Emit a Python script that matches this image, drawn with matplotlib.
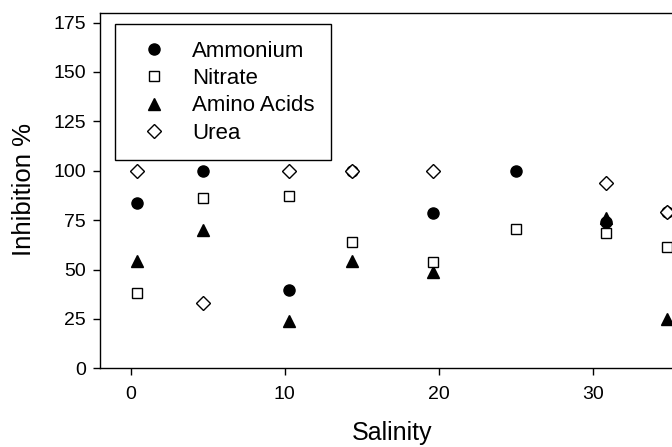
import numpy as np
import matplotlib.pyplot as plt

plt.rcParams['font.family'] = ['Liberation Sans', 'DejaVu Sans']

# salinity of each sampling station
salinity = [0.4, 4.7, 10.3, 14.4, 19.6, 25.0, 30.9, 34.8]

# inhibition % per nitrogen source (nan = not measured)
ammonium = [83.5, 100, 39.6, 100, 78.5, 100, 74, 79]
nitrate = [38.3, 86, 87.2, 64.1, 53.7, 70.5, 68.7, 61.6]
amino_acids = [54.3, 70, 24.1, 54.3, 48.9, np.nan, 76, 25]
urea = [100, 33, 100, 100, 100, np.nan, 93.7, 79]

fig = plt.figure(figsize=(6.72, 4.47), dpi=100)
# axes runs past the right edge, the original figure is cropped there
ax = fig.add_axes([100 / 672, 78.7 / 447, 585 / 672, 355.6 / 447])

ax.plot(salinity, ammonium, 'o', ms=8, color='black', mec='black',
        label='Ammonium', zorder=3)
ax.plot(salinity, amino_acids, '^', ms=8, color='black', mec='black',
        label='Amino Acids', zorder=4)
ax.plot(salinity, nitrate, 's', ms=7, mfc='white', mec='black', mew=1,
        label='Nitrate', zorder=5)
ax.plot(salinity, urea, 'D', ms=7.5, mfc='white', mec='black', mew=1,
        label='Urea', zorder=6)

ax.set_xlim(-2, 36)
ax.set_ylim(0, 180)
ax.set_xticks([0, 10, 20, 30])
ax.set_yticks([0, 25, 50, 75, 100, 125, 150, 175])
ax.tick_params(axis='both', direction='out', length=5, width=1, labelsize=14)
ax.tick_params(axis='x', pad=8)
ax.tick_params(axis='y', pad=5)
for sp in ax.spines.values():
    sp.set_linewidth(1)

ax.set_xlabel('Salinity', fontsize=18)
ax.xaxis.set_label_coords(391.7 / 672, 1 - 421 / 447, transform=fig.transFigure)
ax.set_ylabel('Inhibition %', fontsize=18.5)
ax.yaxis.set_label_coords(24 / 672, 1 - 189 / 447, transform=fig.transFigure)
ax.yaxis.label.set_va('center')

handles, labels = ax.get_legend_handles_labels()
order = [labels.index(n) for n in ['Ammonium', 'Nitrate', 'Amino Acids', 'Urea']]
leg = ax.legend([handles[i] for i in order], [labels[i] for i in order],
                loc='upper left', bbox_to_anchor=(115 / 672, 1 - 24.3 / 447),
                bbox_transform=fig.transFigure, borderaxespad=0,
                fontsize=16, fancybox=False, framealpha=1, edgecolor='black',
                handlelength=2.05, handletextpad=0.68, labelspacing=0.28,
                borderpad=0.75)
leg.get_frame().set_linewidth(1)

fig.savefig('out.png', dpi=100, facecolor='white')
